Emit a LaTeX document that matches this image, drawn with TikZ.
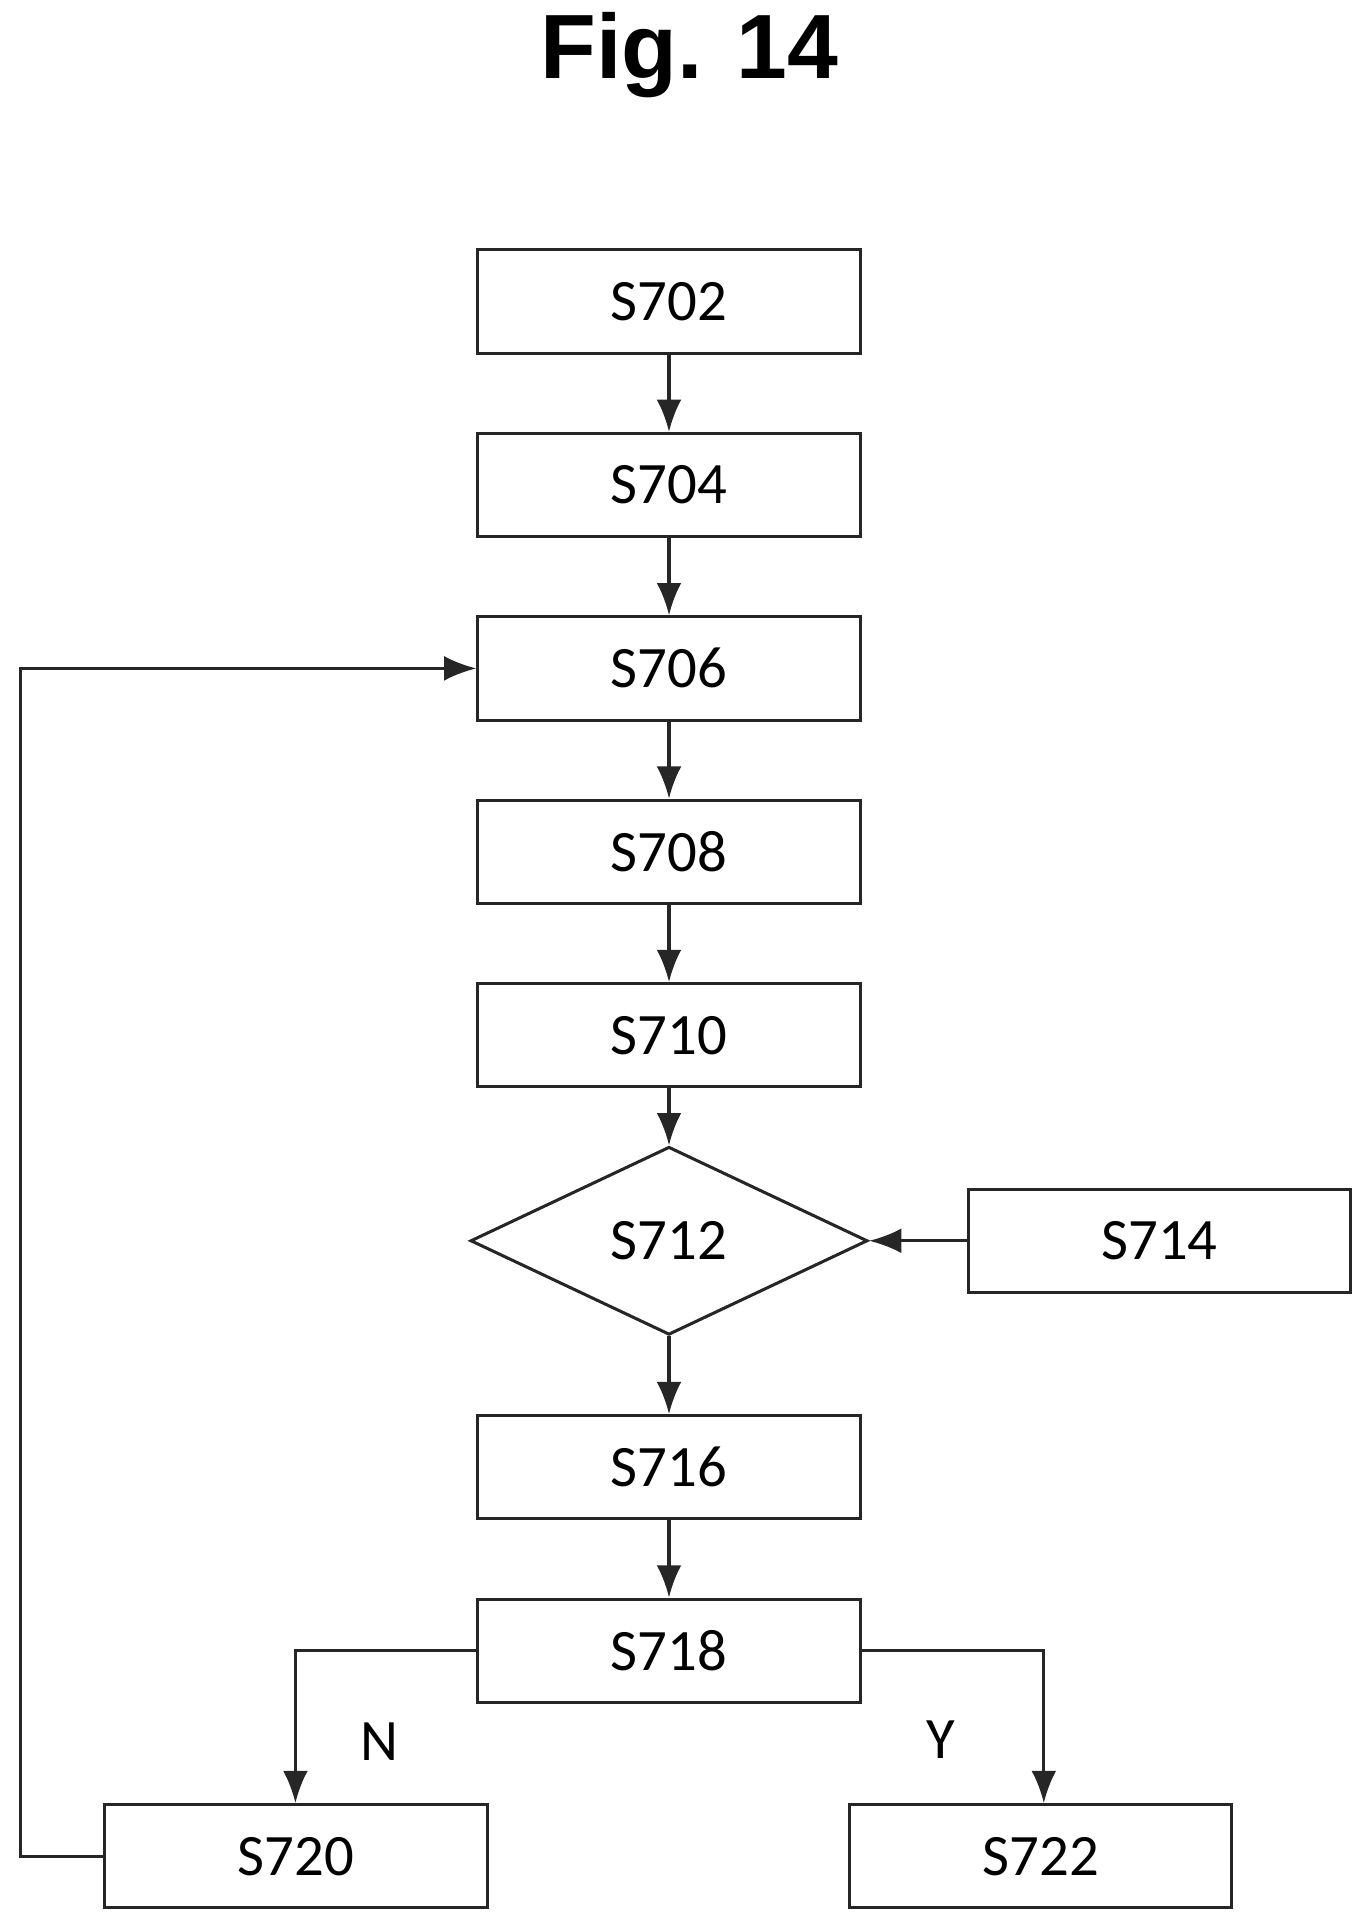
\documentclass[tikz,border=0pt]{standalone}
\usepackage{fontspec}
\setmainfont{Carlito}
\newfontfamily\titlefont{Liberation Sans}
\usetikzlibrary{shapes.geometric,arrows.meta}
\begin{document}
\begin{tikzpicture}[x=0.0995mm,y=-0.0995mm,
  box/.style={draw=black!85,line width=0.7pt,minimum width=30.9mm,minimum height=8.35mm,inner sep=0,font=\fontsize{13.5}{15}\selectfont},
  dia/.style={draw=black!85,line width=0.7pt,diamond,aspect=2.1,minimum width=32.1mm,minimum height=15.2mm,inner sep=0,font=\fontsize{13.5}{15}\selectfont},
  arr/.style={draw=black!85,line width=0.7pt,-{Latex[length=2.6mm,width=2mm]}},
  lab/.style={font=\fontsize{13.5}{15}\selectfont}]
\useasboundingbox (0,0) rectangle (1110,1559);
\node[font=\titlefont\bfseries\fontsize{21}{25}\selectfont] (title) at (560,45) {Fig. 14};
\node[box] (s702) at (543.5,245) {S702};
\node[box] (s704) at (543.5,394) {S704};
\node[box] (s706) at (543.5,543) {S706};
\node[box] (s708) at (543.5,692) {S708};
\node[box] (s710) at (543.5,841) {S710};
\node[dia] (s712) at (543.5,1008) {S712};
\node[box] (s714) at (942,1008) {S714};
\node[box] (s716) at (543.5,1192) {S716};
\node[box] (s718) at (543.5,1341) {S718};
\node[box] (s720) at (240.5,1508) {S720};
\node[box] (s722) at (845.5,1508) {S722};
\draw[arr] (s702) -- (s704);
\draw[arr] (s704) -- (s706);
\draw[arr] (s706) -- (s708);
\draw[arr] (s708) -- (s710);
\draw[arr] (s710) -- (s712);
\draw[arr] (s714) -- (s712);
\draw[arr] (s712) -- (s716);
\draw[arr] (s716) -- (s718);
\coordinate (nl) at (240,1341);
\coordinate (yr) at (848,1341);
\draw[arr] (s718.west) -- (nl) -- (s720.north -| nl);
\draw[arr] (s718.east) -- (yr) -- (s722.north -| yr);
\coordinate (lb) at (17,1508);
\coordinate (lt) at (17,543);
\draw[arr] (s720.west) -- (lb) -- (lt) -- (s706.west);
\node[lab] (n) at (308,1415) {N};
\node[lab] (y) at (764,1413) {Y};
\end{tikzpicture}
\end{document}
